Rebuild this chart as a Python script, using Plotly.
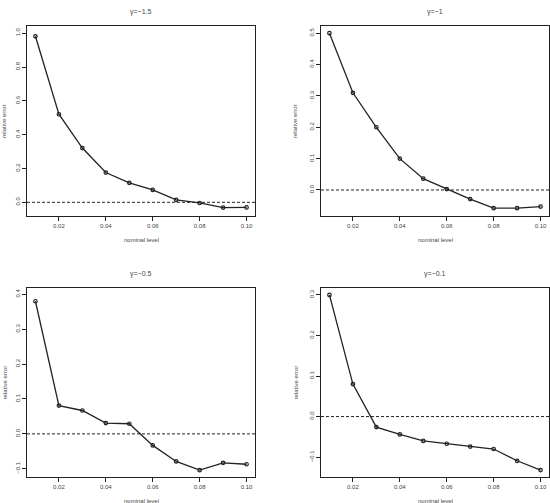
import plotly.graph_objects as go

W, H = 550, 503

nominal = [0.01, 0.02, 0.03, 0.04, 0.05, 0.06, 0.07, 0.08, 0.09, 0.10]
err_g15 = [0.982, 0.521, 0.321, 0.176, 0.115, 0.073, 0.014, -0.004, -0.031, -0.030]
err_g10 = [0.500, 0.310, 0.200, 0.100, 0.036, 0.003, -0.029, -0.058, -0.058, -0.053]
err_g05 = [0.380, 0.081, 0.067, 0.031, 0.029, -0.033, -0.079, -0.104, -0.083, -0.087]
err_g01 = [0.300, 0.080, -0.026, -0.044, -0.060, -0.067, -0.074, -0.080, -0.109, -0.132]

titles = ["\u03b3=\u22121.5", "\u03b3=\u22121", "\u03b3=\u22120.5", "\u03b3=\u22120.1"]
series = [err_g15, err_g10, err_g05, err_g01]
xticks = [0.02, 0.04, 0.06, 0.08, 0.10]
xticktext = ["0.02", "0.04", "0.06", "0.08", "0.10"]
yticks = [
    [0.0, 0.2, 0.4, 0.6, 0.8, 1.0],
    [0.0, 0.1, 0.2, 0.3, 0.4, 0.5],
    [-0.1, 0.0, 0.1, 0.2, 0.3, 0.4],
    [-0.1, 0.0, 0.1, 0.2, 0.3],
]
yranges = [[-0.081, 1.043], [-0.083, 0.523], [-0.1236, 0.418], [-0.149, 0.317]]
xrange_ = [0.0064, 0.1036]

# panel boxes in pixels: (left, right, top, bottom)
boxes = [(27, 255, 26, 216), (321, 549, 26, 216), (27, 255, 288, 477), (321, 549, 288, 477)]

FONT = "Liberation Sans, Arial, sans-serif"
INK = "#222222"
TXT = "#444444"

fig = go.Figure()
layout = dict(
    width=W, height=H, margin=dict(l=0, r=0, t=0, b=0),
    paper_bgcolor="white", plot_bgcolor="white", showlegend=False,
    font=dict(family=FONT, size=6, color=TXT),
)
annotations = []
shapes = []

def fmt(v):
    s = f"{v:.1f}"
    return s.replace("-", "\u2212")

for i, (ys, box) in enumerate(zip(series, boxes)):
    l, r, t, b = box
    xa = "xaxis" if i == 0 else f"xaxis{i+1}"
    ya = "yaxis" if i == 0 else f"yaxis{i+1}"
    xr = "x" if i == 0 else f"x{i+1}"
    yr = "y" if i == 0 else f"y{i+1}"
    fig.add_trace(go.Scatter(
        x=nominal, y=ys, xaxis=xr, yaxis=yr, mode="lines+markers",
        line=dict(color=INK, width=1.3),
        marker=dict(symbol="circle-open", size=3.5, color=INK, line=dict(width=1.2, color=INK)),
        cliponaxis=False,
    ))
    layout[xa] = dict(
        domain=[l / W, r / W], anchor=yr, range=xrange_,
        tickvals=xticks, ticktext=xticktext, ticks="outside", ticklen=4,
        tickcolor=INK, tickwidth=1, showline=True, linecolor=INK, linewidth=1.2,
        mirror=True, showgrid=False, zeroline=False,
        tickfont=dict(size=6, color=TXT, family=FONT),
    )
    layout[ya] = dict(
        domain=[1 - b / H, 1 - t / H], anchor=xr, range=yranges[i],
        tickvals=yticks[i], ticktext=[fmt(v) for v in yticks[i]],
        ticks="outside", ticklen=4, tickcolor=INK, tickwidth=1, tickangle=-90,
        showline=True, linecolor=INK, linewidth=1.2, mirror=True,
        showgrid=False, zeroline=False,
        tickfont=dict(size=6, color=TXT, family=FONT),
    )
    shapes.append(dict(
        type="line", xref=f"{xr} domain", yref=yr, x0=0, x1=1, y0=0, y1=0,
        line=dict(color=INK, width=1, dash="3px,2px"),
    ))
    cx = (l + r) / 2 / W
    annotations.append(dict(
        text=titles[i], x=cx, y=1 - (t - 14) / H, xref="paper", yref="paper",
        showarrow=False, xanchor="center", yanchor="middle",
        font=dict(size=7, color=TXT, family=FONT),
    ))
    annotations.append(dict(
        text="nominal level", x=cx, y=1 - (b + 24) / H, xref="paper", yref="paper",
        showarrow=False, xanchor="center", yanchor="middle",
        font=dict(size=6, color=TXT, family=FONT),
    ))
    annotations.append(dict(
        text="relative error", x=max(l - 26, 4) / W, y=1 - (t + b) / 2 / H,
        xref="paper", yref="paper", showarrow=False, textangle=-90,
        xanchor="center", yanchor="middle",
        font=dict(size=6, color=TXT, family=FONT),
    ))

layout["annotations"] = annotations
layout["shapes"] = shapes
fig.update_layout(**layout)
fig.write_html("out.html")
